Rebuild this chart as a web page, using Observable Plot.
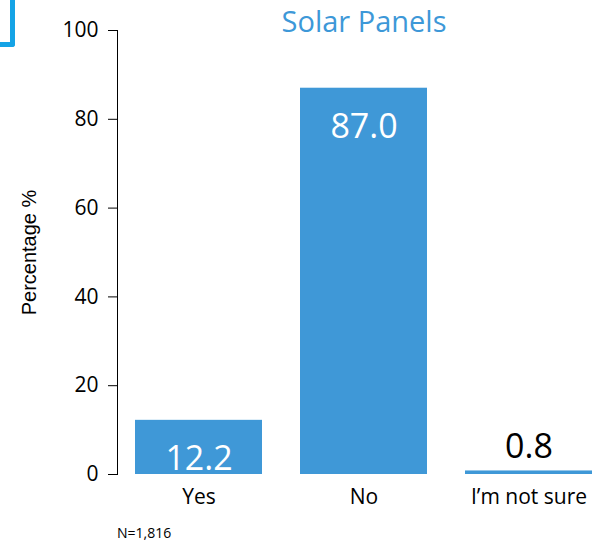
<!DOCTYPE html>
<html><head><meta charset="utf-8">
<script src="https://cdn.jsdelivr.net/npm/d3@7"></script>
<script src="https://cdn.jsdelivr.net/npm/@observablehq/plot@0.6"></script>
<style>
body{margin:0;background:#fff;}
#wrap{position:relative;width:603px;height:543px;font-family:"Open Sans",sans-serif;overflow:hidden;}
#bracket{position:absolute;left:-10px;top:-10px;width:20px;height:52px;border-right:5px solid #14a3e6;border-bottom:5px solid #14a3e6;border-bottom-right-radius:3px;}
#title{position:absolute;left:364px;top:6px;transform:translateX(-50%);font-size:29px;line-height:29px;color:#3d98d8;white-space:nowrap;}
#chart{position:absolute;left:0;top:0;}
#note{position:absolute;left:117px;top:525px;font-size:14px;line-height:15px;color:#000;white-space:nowrap;}
</style></head><body>
<div id="wrap">
<div id="chart"></div>
<div id="bracket"></div>
<div id="title"></div>
<div id="note"></div>
</div>
<script>
const categories = ["Yes", "No", "I\u2019m not sure"];
const values = [12.2, 87.0, 0.8];
const yTicks = [0, 20, 40, 60, 80, 100];
const titleText = "Solar Panels";
const noteText = "N=1,816";
const yLabel = "Percentage %";

const data = categories.map((c, i) => ({category: c, value: values[i]}));
const blue = "#3f98d7";

document.getElementById("title").textContent = titleText;
document.getElementById("note").textContent = noteText;

const chart = Plot.plot({
  width: 603, height: 543,
  marginTop: 30, marginBottom: 69, marginLeft: 117, marginRight: 0,
  style: {fontFamily: "'Open Sans', sans-serif", fontSize: "20px", color: "#000", background: "transparent"},
  x: {domain: categories, paddingInner: 0.233, paddingOuter: 0.0876, align: 0.62, label: null},
  y: {domain: [0, 100], label: null},
  marks: [
    Plot.barY(data, {x: "category", y: "value", fill: blue}),
    Plot.frame({anchor: "left", stroke: "#000", strokeWidth: 1}),
    Plot.axisY({ticks: yTicks, tickSize: 9, tickPadding: 10, fontSize: 21, label: null}),
    Plot.axisY({ticks: [], tickSize: 0, fontSize: 20, fontFamily: "'Liberation Sans', Arial, sans-serif", label: yLabel, labelArrow: "none", labelAnchor: "center", labelOffset: 96}),
    Plot.axisX({tickSize: 0, tickPadding: 15, fontSize: 21, label: null}),
    Plot.text(data.filter(d => d.value >= 5), {x: "category", y: "value", text: d => d.value.toFixed(1), fill: "white", lineAnchor: "top", dy: 26, fontSize: 34}),
    Plot.text(data.filter(d => d.value < 5), {x: "category", y: "value", text: d => d.value.toFixed(1), fill: "black", lineAnchor: "bottom", dy: -13, fontSize: 34})
  ]
});
document.getElementById("chart").appendChild(chart);
</script>
</body></html>
